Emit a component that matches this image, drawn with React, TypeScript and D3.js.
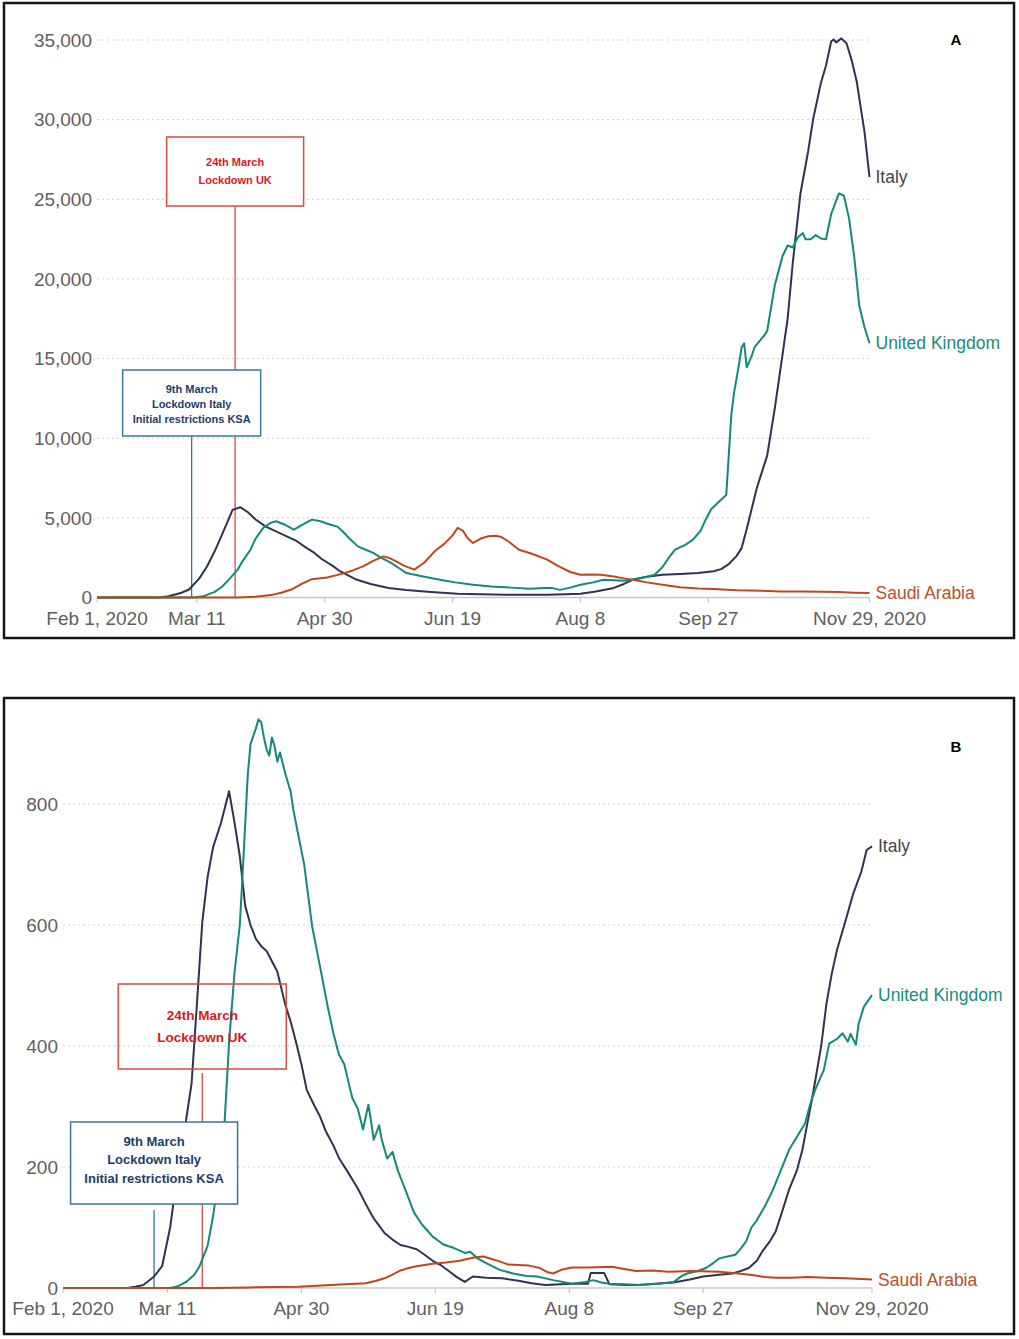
import React from 'react';
import * as d3 from 'd3';

// 7-day averages, [month/day, value]
const italyCases: [string, number][] = [
  ['2/1', 0], ['2/25', 0], ['2/29', 80], ['3/5', 300], ['3/8', 500], ['3/12', 1200], ['3/15', 1950],
  ['3/18', 2900], ['3/21', 4000], ['3/25', 5500], ['3/28', 5670], ['3/31', 5350], ['4/3', 4900],
  ['4/7', 4450], ['4/11', 4150], ['4/16', 3780], ['4/19', 3550], ['4/23', 3100], ['4/26', 2800],
  ['4/29', 2400], ['5/3', 2000], ['5/6', 1650], ['5/12', 1150], ['5/18', 850], ['5/25', 600],
  ['6/1', 470], ['6/8', 380], ['6/15', 300], ['6/21', 240], ['6/30', 200], ['7/10', 180],
  ['7/20', 180], ['7/26', 180], ['8/2', 210], ['8/8', 240], ['8/14', 380], ['8/21', 600],
  ['8/25', 850], ['8/29', 1150], ['9/3', 1300], ['9/9', 1430], ['9/16', 1480], ['9/23', 1540],
  ['9/29', 1650], ['10/2', 1780], ['10/5', 2100], ['10/8', 2600], ['10/10', 3100], ['10/12', 4300],
  ['10/14', 5600], ['10/16', 6900], ['10/20', 8910], ['10/23', 11900], ['10/25', 14130],
  ['10/28', 17500], ['10/30', 21000], ['11/2', 25360], ['11/5', 28000], ['11/7', 30060],
  ['11/10', 32300], ['11/12', 33400], ['11/14', 34900], ['11/15', 35030], ['11/16', 34850],
  ['11/18', 35100], ['11/20', 34800], ['11/22', 33750], ['11/24', 32400], ['11/26', 30300],
  ['11/27', 29300], ['11/29', 26400],
];

const ukCases: [string, number][] = [
  ['2/1', 0], ['3/10', 0], ['3/14', 100], ['3/18', 350], ['3/21', 690], ['3/24', 1200], ['3/27', 1750],
  ['3/29', 2300], ['4/1', 3000], ['4/3', 3700], ['4/6', 4370], ['4/9', 4700], ['4/11', 4790],
  ['4/14', 4600], ['4/18', 4260], ['4/21', 4550], ['4/25', 4890], ['4/28', 4800], ['5/2', 4580],
  ['5/5', 4450], ['5/7', 4160], ['5/10', 3650], ['5/13', 3210], ['5/16', 3000], ['5/19', 2800],
  ['5/22', 2500], ['5/26', 2170], ['5/29', 1850], ['6/1', 1535], ['6/7', 1330], ['6/14', 1115],
  ['6/20', 950], ['6/27', 800], ['7/4', 690], ['7/12', 620], ['7/19', 550], ['7/25', 590],
  ['7/28', 590], ['7/31', 480], ['8/4', 620], ['8/8', 800], ['8/13', 950], ['8/17', 1115],
  ['8/21', 1080], ['8/25', 1050], ['8/30', 1160], ['9/3', 1300], ['9/6', 1430], ['9/9', 1900],
  ['9/12', 2600], ['9/14', 3000], ['9/18', 3300], ['9/21', 3630], ['9/24', 4200], ['9/26', 4900],
  ['9/28', 5520], ['10/1', 6000], ['10/4', 6430], ['10/5', 9000], ['10/6', 11500], ['10/7', 12800],
  ['10/9', 14650], ['10/10', 15700], ['10/11', 15960], ['10/12', 14450], ['10/14', 15180],
  ['10/15', 15700], ['10/19', 16480], ['10/20', 16740], ['10/23', 19620], ['10/26', 21440],
  ['10/28', 22100], ['10/30', 21970], ['11/1', 22620], ['11/3', 22880], ['11/4', 22490],
  ['11/6', 22490], ['11/8', 22750], ['11/10', 22540], ['11/12', 22490], ['11/14', 24060],
  ['11/17', 25360], ['11/19', 25230], ['11/21', 23800], ['11/23', 21440], ['11/25', 18310],
  ['11/27', 17000], ['11/29', 15960],
];

const saudiCases: [string, number][] = [
  ['2/1', 0], ['3/27', 0], ['4/3', 50], ['4/9', 150], ['4/13', 300], ['4/17', 500], ['4/21', 850],
  ['4/25', 1150], ['5/1', 1250], ['5/7', 1500], ['5/11', 1700], ['5/15', 1950], ['5/19', 2300],
  ['5/23', 2580], ['5/25', 2500], ['5/28', 2270], ['5/31', 2000], ['6/4', 1750], ['6/8', 2200],
  ['6/12', 2900], ['6/16', 3400], ['6/19', 3900], ['6/21', 4370], ['6/23', 4200], ['6/25', 3700],
  ['6/27', 3425], ['6/30', 3700], ['7/3', 3850], ['7/6', 3880], ['7/8', 3800], ['7/11', 3500],
  ['7/15', 3000], ['7/20', 2750], ['7/26', 2375], ['7/30', 2000], ['8/4', 1600], ['8/8', 1430],
  ['8/12', 1450], ['8/16', 1430], ['8/21', 1325], ['8/25', 1200], ['8/29', 1100], ['9/3', 950],
  ['9/9', 800], ['9/16', 650], ['9/23', 560], ['9/29', 530], ['10/8', 450], ['10/18', 420],
  ['10/25', 380], ['11/2', 380], ['11/10', 360], ['11/17', 340], ['11/23', 300], ['11/29', 280],
];

const italyDeaths: [string, number][] = [
  ['2/1', 0], ['2/25', 0], ['2/28', 2], ['3/2', 5], ['3/6', 19], ['3/9', 36], ['3/12', 100],
  ['3/14', 166], ['3/17', 250], ['3/20', 338], ['3/22', 470], ['3/24', 605], ['3/26', 680],
  ['3/28', 728], ['3/31', 769], ['4/3', 821], ['4/5', 770], ['4/7', 714], ['4/9', 632],
  ['4/11', 600], ['4/13', 577], ['4/15', 565], ['4/17', 557], ['4/19', 540], ['4/21', 523],
  ['4/24', 468], ['4/26', 440], ['4/28', 406], ['4/30', 370], ['5/2', 327], ['5/5', 300],
  ['5/7', 283], ['5/9', 260], ['5/12', 235], ['5/14', 215], ['5/17', 194], ['5/21', 165],
  ['5/24', 139], ['5/27', 115], ['5/31', 91], ['6/3', 80], ['6/6', 71], ['6/9', 68], ['6/12', 64],
  ['6/15', 55], ['6/18', 45], ['6/21', 38], ['6/24', 28], ['6/27', 18], ['6/30', 10], ['7/3', 19],
  ['7/8', 17], ['7/14', 16], ['7/20', 12], ['7/25', 8], ['7/30', 5], ['8/5', 6], ['8/9', 7],
  ['8/15', 7], ['8/16', 25], ['8/21', 25], ['8/23', 6], ['8/29', 5], ['9/3', 5], ['9/9', 7],
  ['9/16', 9], ['9/22', 14], ['9/27', 19], ['10/3', 22], ['10/8', 24], ['10/11', 28], ['10/14', 33],
  ['10/17', 45], ['10/19', 60], ['10/22', 78], ['10/24', 93], ['10/26', 120], ['10/29', 162],
  ['11/1', 195], ['11/3', 228], ['11/5', 275], ['11/7', 322], ['11/10', 399], ['11/12', 470],
  ['11/14', 520], ['11/16', 560], ['11/19', 605], ['11/22', 652], ['11/25', 688], ['11/27', 724],
  ['11/29', 730],
];

const ukDeaths: [string, number][] = [
  ['2/1', 0], ['3/12', 0], ['3/15', 3], ['3/18', 10], ['3/21', 22], ['3/23', 36], ['3/26', 70],
  ['3/28', 118], ['3/30', 180], ['4/1', 249], ['4/3', 406], ['4/5', 520], ['4/7', 600], ['4/8', 680],
  ['4/10', 850], ['4/11', 899], ['4/13', 925], ['4/14', 940], ['4/15', 935], ['4/16', 910],
  ['4/17', 890], ['4/18', 880], ['4/19', 910], ['4/20', 895], ['4/21', 870], ['4/22', 885],
  ['4/24', 850], ['4/26', 820], ['4/27', 790], ['4/29', 745], ['5/1', 701], ['5/4', 598],
  ['5/7', 530], ['5/10', 461], ['5/12', 420], ['5/14', 386], ['5/16', 370], ['5/17', 351],
  ['5/19', 314], ['5/21', 297], ['5/23', 262], ['5/25', 303], ['5/26', 276], ['5/27', 245],
  ['5/29', 269], ['5/30', 245], ['6/1', 214], ['6/3', 225], ['6/5', 194], ['6/8', 160],
  ['6/11', 125], ['6/14', 105], ['6/16', 95], ['6/18', 85], ['6/22', 72], ['6/26', 66], ['6/30', 58],
  ['7/2', 60], ['7/5', 48], ['7/8', 41], ['7/13', 30], ['7/18', 24], ['7/23', 20], ['7/27', 19],
  ['8/2', 13], ['8/9', 7], ['8/14', 10], ['8/17', 13], ['8/20', 9], ['8/23', 7], ['8/29', 6],
  ['9/3', 5], ['9/10', 7], ['9/16', 10], ['9/19', 20], ['9/21', 24], ['9/25', 28], ['9/28', 33],
  ['10/1', 42], ['10/3', 49], ['10/6', 52], ['10/9', 55], ['10/11', 65], ['10/13', 77],
  ['10/15', 100], ['10/17', 112], ['10/20', 135], ['10/23', 162], ['10/26', 195], ['10/29', 228],
  ['11/1', 250], ['11/4', 272], ['11/6', 305], ['11/8', 330], ['11/11', 360], ['11/13', 404],
  ['11/16', 412], ['11/18', 421], ['11/20', 407], ['11/21', 420], ['11/23', 402], ['11/24', 437],
  ['11/26', 465], ['11/29', 484],
];

const saudiDeaths: [string, number][] = [
  ['2/1', 0], ['3/29', 0], ['4/11', 1], ['4/29', 2], ['5/11', 5], ['5/24', 8], ['5/28', 12],
  ['5/31', 16], ['6/3', 22], ['6/6', 29], ['6/9', 33], ['6/12', 36], ['6/18', 40], ['6/23', 42],
  ['6/28', 45], ['7/3', 50], ['7/7', 52], ['7/10', 48], ['7/13', 44], ['7/16', 39], ['7/20', 38],
  ['7/24', 37], ['7/28', 33], ['7/31', 26], ['8/2', 24], ['8/5', 30], ['8/9', 34], ['8/15', 34],
  ['8/24', 35], ['8/29', 31], ['9/2', 28], ['9/8', 29], ['9/14', 27], ['9/23', 28], ['10/3', 27],
  ['10/10', 24], ['10/16', 21], ['10/20', 18], ['10/24', 17], ['10/30', 17], ['11/5', 18],
  ['11/12', 17], ['11/19', 16], ['11/25', 15], ['11/29', 14],
];

const tickDates = ['2/1', '3/11', '4/30', '6/19', '8/8', '9/27', '11/29'];
const tickLabels = ['Feb 1, 2020', 'Mar 11', 'Apr 30', 'Jun 19', 'Aug 8', 'Sep 27', 'Nov 29, 2020'];
const casesTicks = [0, 5000, 10000, 15000, 20000, 25000, 30000, 35000];
const deathsTicks = [0, 200, 400, 600, 800];
const countries = ['Italy', 'United Kingdom', 'Saudi Arabia'];

const COLORS = ['#2e3350', '#13897a', '#c2461b'];
const LABEL_COLORS = ['#45454f', '#1a8a7b', '#b9502a'];
const RED = '#e0473d';
const RED_TEXT = '#e2161d';
const BLUE = '#3d7696';
const BLUE_TEXT = '#1d3d6b';
const FONT = '"Liberation Sans", Arial, Helvetica, sans-serif';

const parse = d3.timeParse('%m/%d/%Y');
const toDate = (s: string) => parse(`${s}/2020`) as Date;

interface Note {
  date: string;
  color: string;
  textColor: string;
  lines: string[];
  top: number;
  w: number;
  h: number;
  lineTop: number;
  fill: string;
  fontSize: number;
  lineYs: number[];
}

interface PanelProps {
  frame: [number, number, number, number];
  xRange: [number, number];
  yMax: number;
  yRange: [number, number];
  ticks: number[];
  fmt: (n: number) => string;
  yLabelX: number;
  xLabelY: number;
  series: [string, number][][];
  notes: Note[];
  letter: string;
  letterY: number;
  labelGap: number;
}

const Panel: React.FC<PanelProps> = (p) => {
  const x = d3.scaleTime().domain([toDate('2/1'), toDate('11/29')]).range(p.xRange);
  const y = d3.scaleLinear().domain([0, p.yMax]).range(p.yRange);
  const line = d3.line<[string, number]>()
    .x(d => x(toDate(d[0])))
    .y(d => y(d[1]))
    .curve(d3.curveLinear);
  const [fx, fy, fw, fh] = p.frame;
  const base = y(0);

  return (
    <g>
      <rect x={fx} y={fy} width={fw} height={fh} fill="#fff" stroke="#151515" strokeWidth={2.5} />
      {/* grid */}
      {p.ticks.filter(t => t > 0).map(t => (
        <line key={t} x1={p.xRange[0]} x2={p.xRange[1]} y1={y(t)} y2={y(t)}
          stroke="#cfcfcf" strokeWidth={1} strokeDasharray="2,3" />
      ))}
      <line x1={p.xRange[0]} x2={p.xRange[1]} y1={base} y2={base} stroke="#c8c8c8" strokeWidth={1.3} />
      {tickDates.map((t, i) => (
        <g key={t}>
          <line x1={x(toDate(t))} x2={x(toDate(t))} y1={base} y2={base + 5} stroke="#c8c8c8" strokeWidth={1.2} />
          <text x={x(toDate(t))} y={p.xLabelY} textAnchor="middle" fontSize={19} fill="#606060"
            fontFamily={FONT}>{tickLabels[i]}</text>
        </g>
      ))}
      {p.ticks.map(t => (
        <text key={t} x={p.yLabelX} y={y(t)} dy="0.35em" textAnchor="end" fontSize={19}
          fill="#606060" fontFamily={FONT}>{p.fmt(t)}</text>
      ))}

      {/* annotation stems */}
      {p.notes.map((n, i) => (
        <line key={i} x1={x(toDate(n.date))} x2={x(toDate(n.date))} y1={n.lineTop} y2={base}
          stroke={n.color} strokeWidth={1.3} />
      ))}

      {/* series */}
      {p.series.map((s, i) => (
        <path key={i} d={line(s) || ''} fill="none" stroke={COLORS[i]} strokeWidth={2}
          strokeLinejoin="round" />
      ))}
      {p.series.map((s, i) => {
        const last = s[s.length - 1];
        return (
          <text key={i} x={x(toDate(last[0])) + p.labelGap} y={y(last[1])} dy="0.35em" fontSize={17.5}
            fill={LABEL_COLORS[i]} fontFamily={FONT}>{countries[i]}</text>
        );
      })}

      {/* annotation boxes */}
      {p.notes.map((n, i) => {
        const cx = x(toDate(n.date));
        return (
          <g key={i}>
            <rect x={cx - n.w / 2} y={n.top} width={n.w} height={n.h} fill={n.fill}
              stroke={n.color} strokeWidth={1.5} />
            {n.lines.map((l, j) => (
              <text key={j} x={cx} y={n.top + n.lineYs[j]} dy="0.35em" textAnchor="middle"
                fontSize={n.fontSize} fontWeight="bold" fill={n.textColor} fontFamily={FONT}>{l}</text>
            ))}
          </g>
        );
      })}

      <text x={956} y={p.letterY} dy="0.35em" textAnchor="middle" fontSize={15} fontWeight="bold"
        fill="#000" fontFamily={FONT}>{p.letter}</text>
    </g>
  );
};

const notesA: Note[] = [
  { date: '3/26', color: RED, textColor: RED_TEXT, lines: ['24th March', 'Lockdown UK'], top: 137, w: 137, h: 69,
    lineTop: 206, fill: '#fff', fontSize: 11, lineYs: [25, 43] },
  { date: '3/9', color: BLUE, textColor: BLUE_TEXT, lines: ['9th March', 'Lockdown Italy', 'Initial restrictions KSA'],
    top: 370, w: 138, h: 66, lineTop: 436, fill: '#fff', fontSize: 11, lineYs: [19, 34, 49] },
];

const notesB: Note[] = [
  { date: '3/24', color: RED, textColor: RED_TEXT, lines: ['24th March', 'Lockdown UK'], top: 984, w: 168, h: 85,
    lineTop: 1073, fill: 'none', fontSize: 13.5, lineYs: [31, 53] },
  { date: '3/6', color: BLUE, textColor: BLUE_TEXT, lines: ['9th March', 'Lockdown Italy', 'Initial restrictions KSA'],
    top: 1122, w: 167, h: 82, lineTop: 1210, fill: '#fff', fontSize: 13, lineYs: [19, 37, 56] },
];

export default function App() {
  return (
    <svg width={1019} height={1339} style={{ position: 'absolute', left: 0, top: 0, background: '#fff' }}>
      <rect width={1019} height={1339} fill="#fff" />
      <Panel frame={[4, 3, 1010, 635]} xRange={[97, 869.5]} yMax={35000} yRange={[597.5, 40]}
        ticks={casesTicks} fmt={d3.format(',')} yLabelX={92} xLabelY={625}
        series={[italyCases, ukCases, saudiCases]} notes={notesA} letter="A" letterY={40} labelGap={6} />
      <Panel frame={[4, 698, 1010, 636]} xRange={[63, 872]} yMax={800} yRange={[1288, 804]}
        ticks={deathsTicks} fmt={d3.format('d')} yLabelX={58} xLabelY={1315}
        series={[italyDeaths, ukDeaths, saudiDeaths]} notes={notesB} letter="B" letterY={747} labelGap={6} />
    </svg>
  );
}
